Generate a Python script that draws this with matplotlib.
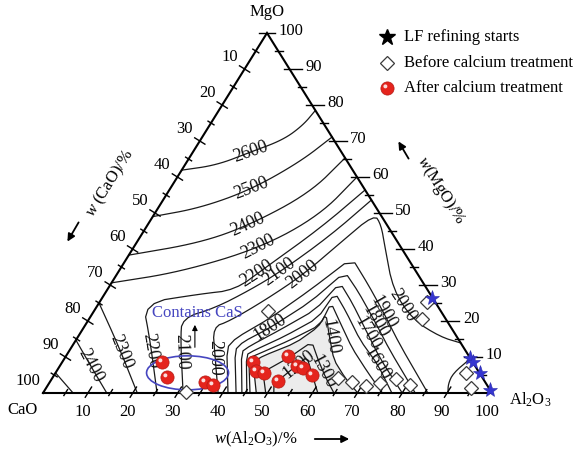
import numpy as np
import matplotlib
matplotlib.use("Agg")
import matplotlib.pyplot as plt
from matplotlib.path import Path
from matplotlib.patches import Ellipse, Polygon

plt.rcParams["font.family"] = ["Liberation Serif", "DejaVu Serif"]
plt.rcParams["mathtext.fontset"] = "custom"
plt.rcParams["mathtext.rm"] = "Liberation Serif"
plt.rcParams["mathtext.it"] = "Liberation Serif:italic"

# ---------------- data (mass %, Al2O3 and MgO; CaO = balance) ----------------
iso2600_al = [0, 7.1, 12.8, 18.4, 20.8, 21.5]
iso2600_mg = [61.9, 63.3, 66.9, 70.3, 74.4, 78.5]
iso2500_al = [0, 9.3, 18.0, 25.2, 28.9]
iso2500_mg = [49.0, 51.4, 56.4, 64.2, 71.1]
iso2400_al = [0, 14.1, 22.8, 31.7, 34.7]
iso2400_mg = [38.3, 41.7, 46.7, 55.6, 65.3]
iso2300_al = [0, 13.7, 28.3, 37.0, 40.0]
iso2300_mg = [30.6, 33.6, 40.3, 49.4, 60.0]
iso2200_al = [25.4, 16.5, 9.8, 21.3, 28.5, 32.1, 38.9, 43.6]
iso2200_mg = [0, 14.7, 25.0, 27.5, 28.6, 34.7, 45.8, 56.4]
iso2100_al = [31.2, 23.3, 20.6, 26.5, 31.8, 36.0, 42.1, 46.4]
iso2100_mg = [0, 14.7, 20.8, 23.6, 28.6, 33.6, 43.6, 53.6]
iso2000_al = [39.0, 33.0, 28.7, 31.6, 36.6, 41.5, 45.4, 49.0, 52.0, 55.9, 63.7, 72.3, 80.7, 86.1]
iso2000_mg = [0, 10.6, 18.3, 20.0, 25.8, 32.8, 41.7, 49.7, 46.7, 40.6, 28.6, 20.3, 15.6, 13.9]
iso2000b_al = [90.4, 88.6, 89.0, 90.2]
iso2000b_mg = [9.5, 5.5, 2.5, 0]
iso2300c_al = [0, 10.1, 21.0]
iso2300c_mg = [25.0, 13.3, 0]
iso2400c_al = [0, 6.6, 14.2]
iso2400c_mg = [14.7, 7.8, 0]
iso2500c_al = [0, 6.7]
iso2500c_mg = [5.6, 0]
iso1900_al = [41.2, 34.7, 35.4, 40.2, 45.2, 50.1, 57.5, 64.0, 72.9, 85.7]
iso1900_mg = [0, 12.5, 15.3, 20.8, 28.6, 37.5, 30.0, 23.1, 13.3, 0]
iso1800_al = [43.0, 36.8, 37.5, 41.5, 46.9, 50.5, 56.2, 63.6, 71.3, 82.9]
iso1800_mg = [0, 11.9, 14.2, 18.1, 25.3, 33.6, 28.1, 20.3, 11.9, 0]
iso1700_al = [44.3, 38.5, 39.6, 44.0, 49.1, 50.9, 56.4, 63.7, 70.2, 80.0]
iso1700_mg = [0, 11.4, 13.1, 17.5, 23.1, 30.6, 25.0, 16.9, 9.7, 0]
iso1600_al = [45.4, 40.0, 41.2, 46.0, 50.8, 51.2, 56.3, 63.3, 70.7, 77.7]
iso1600_mg = [0, 10.6, 11.9, 15.8, 20.8, 27.8, 22.5, 14.7, 7.8, 0]
iso1500_al = [46.1, 41.0, 42.5, 47.7, 52.3, 51.7, 56.3, 62.6, 69.4, 75.6]
iso1500_mg = [0, 9.7, 10.8, 14.7, 18.9, 25.0, 19.7, 12.5, 5.8, 0]
iso1400_al = [47.5, 42.5, 43.9, 49.3, 52.1, 52.1, 55.7, 60.2, 65.2, 70.1]
iso1400_mg = [0, 8.6, 10.3, 13.9, 18.3, 21.9, 16.1, 9.2, 4.2, 0]
iso1300_al = [49.6, 46.1, 50.0, 52.8, 56.7, 60.9, 64.8]
iso1300_mg = [0, 5.8, 10.0, 14.2, 9.2, 4.2, 0]
iso1200_al = [51.4, 50.2, 52.6, 53.8, 57.5, 61.2]
iso1200_mg = [0, 2.5, 7.5, 10.0, 5.0, 0]

# (id, Al2O3, MgO, smoothing passes)
iso_lines = [
    ("2600", iso2600_al, iso2600_mg, 3), ("2500", iso2500_al, iso2500_mg, 3),
    ("2400", iso2400_al, iso2400_mg, 3), ("2300", iso2300_al, iso2300_mg, 3),
    ("2200", iso2200_al, iso2200_mg, 2), ("2100", iso2100_al, iso2100_mg, 2),
    ("2000", iso2000_al, iso2000_mg, 2), ("2000b", iso2000b_al, iso2000b_mg, 2),
    ("2300c", iso2300c_al, iso2300c_mg, 2), ("2400c", iso2400c_al, iso2400c_mg, 2),
    ("2500c", iso2500c_al, iso2500c_mg, 0),
    ("1900", iso1900_al, iso1900_mg, 1), ("1800", iso1800_al, iso1800_mg, 1),
    ("1700", iso1700_al, iso1700_mg, 1), ("1600", iso1600_al, iso1600_mg, 1),
    ("1500", iso1500_al, iso1500_mg, 1), ("1400", iso1400_al, iso1400_mg, 1),
    ("1300", iso1300_al, iso1300_mg, 1), ("1200", iso1200_al, iso1200_mg, 1),
]

# isotherm labels: (text, line id, approx Al2O3, approx MgO, rotation)
iso_labels = [
    ("2600", "2600", 12.9, 66.9, 19), ("2500", "2500", 18.8, 56.1, 21),
    ("2400", "2400", 22.7, 46.1, 24), ("2300", "2300", 28.0, 40.3, 27),
    ("2200", "2200", 30.3, 33.9, 33), ("2100", "2100", 36.2, 33.3, 36),
    ("2000", "2000", 41.9, 32.5, 38),
    ("2400", "2400c", 7.2, 8.3, -62), ("2300", "2300c", 11.5, 11.4, -68),
    ("2200", "2200", 18.5, 11.9, -80), ("2100", "2100", 25.5, 11.4, -88),
    ("2000", "2000", 33.2, 9.7, -90),
    ("1800", "1800", 41.6, 18.1, 33), ("1400", "1400", 56.2, 15.6, -80),
    ("1200", "1200", 53.5, 7.5, 38), ("1300", "1300", 59.2, 5.8, -62),
    ("1900", "1900", 64.5, 22.5, -60), ("1800", "1800", 63.9, 19.7, -60),
    ("1700", "1700", 64.0, 16.4, -60), ("1600", "1600", 70.8, 8.6, -58),
    ("2000", "2000", 68.0, 24.4, -57),
]

lf_al = [73.5, 90.2, 91.5, 94.5, 99.2]
lf_mg = [26.5, 9.8, 8.5, 5.5, 0.8]
before_al = [38.8, 31.7, 72.9, 74.1, 91.4, 94.6, 63.6, 67.3, 71.0, 73.7, 76.7, 80.6]
before_mg = [22.8, 0.3, 25.3, 20.6, 5.6, 1.4, 4.2, 3.1, 1.9, 2.8, 3.9, 2.2]
after_al = [22.3, 25.4, 34.6, 36.8, 42.5, 44.4, 46.5, 50.6, 49.5, 52.8, 54.4, 57.5]
after_mg = [8.6, 4.4, 3.1, 2.2, 8.6, 6.1, 5.6, 3.3, 10.3, 7.5, 6.9, 5.0]

tick_values = list(range(10, 101, 10))
legend_labels = ["LF refining starts", "Before calcium treatment", "After calcium treatment"]
cas_center_al, cas_center_mg = 29.4, 5.6
cas_text_al, cas_text_mg = 23.2, 22.2

# ---------------- ternary projection ----------------
X0, Y0, W, AX, H = 43.0, 393.0, 449.0, 224.0, 360.0


def tern(a, m):
    a = np.asarray(a, float)
    m = np.asarray(m, float)
    return X0 + W * a / 100.0 + AX * m / 100.0, Y0 - H * m / 100.0


def chaikin(x, y, n, r=0.2):
    p = np.column_stack([x, y]).astype(float)
    for _ in range(n):
        q = [p[0]]
        for i in range(len(p) - 1):
            q.append((1 - r) * p[i] + r * p[i + 1])
            q.append(r * p[i] + (1 - r) * p[i + 1])
        q.append(p[-1])
        p = np.array(q)
    return p[:, 0], p[:, 1]


def snap(xs, ys, tx, ty):
    best = (1e18, tx, ty)
    for i in range(len(xs) - 1):
        dx, dy = xs[i + 1] - xs[i], ys[i + 1] - ys[i]
        L2 = dx * dx + dy * dy
        if L2 == 0:
            continue
        t = min(1, max(0, ((tx - xs[i]) * dx + (ty - ys[i]) * dy) / L2))
        px, py = xs[i] + t * dx, ys[i] + t * dy
        d = (px - tx) ** 2 + (py - ty) ** 2
        if d < best[0]:
            best = (d, px, py)
    return best[1], best[2]


fig = plt.figure(figsize=(5.84, 4.54), dpi=100)
ax = fig.add_axes([0, 0, 1, 1])
ax.set_xlim(0, 584)
ax.set_ylim(454, 0)
ax.axis("off")

# isotherms
drawn = {}
for key, al, mg, n in iso_lines:
    x, y = tern(al, mg)
    xs, ys = chaikin(x, y, n, 0.25 if n >= 2 else 0.18)
    drawn[key] = (xs, ys)
    ax.plot(xs, ys, color="#1a1a1a", lw=0.9, zorder=2, solid_joinstyle="round")

# light shading of the lowest-temperature pocket
xs, ys = drawn["1400"]
ax.add_patch(Polygon(np.column_stack([xs, ys]), closed=True, facecolor="#ececec",
                     edgecolor="none", zorder=1))

for txt, key, a, m, rot in iso_labels:
    tx, ty = tern(a, m)
    px, py = snap(*drawn[key], float(tx), float(ty))
    ax.text(px, py, txt, fontsize=13, rotation=rot, rotation_mode="anchor",
            ha="center", va="center", zorder=4, color="#111111")

# triangle frame
cx, cy = tern([0, 100, 0, 0], [0, 0, 100, 0])
ax.plot(cx, cy, color="black", lw=1.5, zorder=3, solid_joinstyle="miter")

# ticks
ld = np.array([AX, -H]) / np.hypot(AX, H)      # left-edge direction (up-right)
lp = np.array([ld[1] * -1, ld[0]])             # perpendicular
for v in range(5, 101, 5):
    major = v % 10 == 0
    # left edge (CaO)
    if v < 100:
        x, y = tern(0, 100 - v)
        L = 6 if major else 3.5
        ax.plot([x - L * lp[0], x + L * lp[0]], [y - L * lp[1], y + L * lp[1]],
                color="black", lw=1.0, zorder=3)
    # right edge (MgO)
    x, y = tern(100 - v, v)
    if v == 100:
        ax.plot([x - 8, x + 8], [y, y], color="black", lw=1.0, zorder=3)
    elif major:
        ax.plot([x - 6, x + 12], [y, y], color="black", lw=1.0, zorder=3)
    else:
        ax.plot([x - 3, x + 5], [y, y], color="black", lw=1.0, zorder=3)
    # bottom edge (Al2O3)
    if v < 100:
        x, y = tern(v, 0)
        lo, hi = (5, 7) if major else (3, 4)
        ax.plot([x - lo * ld[0], x + hi * ld[0]], [y - lo * ld[1], y + hi * ld[1]],
                color="black", lw=1.0, zorder=3)

for v in tick_values:
    x, y = tern(0, 100 - v)
    ax.text(x - 15, y - 12, str(v), fontsize=12, ha="center", va="center")
    x, y = tern(100 - v, v)
    ax.text(x + 24, y - 2, str(v), fontsize=12, ha="center", va="center")
    x, y = tern(v, 0)
    ax.text(x - 5, y + 19, str(v), fontsize=12, ha="center", va="center")

# corner labels
x, y = tern(0, 100)
ax.text(x, y - 21, "MgO", fontsize=12, ha="center", va="center")
x, y = tern(0, 0)
ax.text(x - 21, y + 17, "CaO", fontsize=12, ha="center", va="center")
x, y = tern(100, 0)
ax.text(x + 38, y + 7, r"Al$_2$O$_3$", fontsize=12, ha="center", va="center")

# axis titles with arrows
ax.text(110, 183, r"$w$ (CaO)/%", fontsize=12, rotation=58, rotation_mode="anchor",
        ha="center", va="center")
ax.annotate("", xy=(66, 244), xytext=(80, 220),
            arrowprops=dict(arrowstyle="-|>", color="black", lw=1.3, mutation_scale=11))
ax.text(441, 190, r"$w$(MgO)/%", fontsize=12, rotation=-58, rotation_mode="anchor",
        ha="center", va="center")
ax.annotate("", xy=(397, 139), xytext=(410, 161),
            arrowprops=dict(arrowstyle="-|>", color="black", lw=1.3, mutation_scale=11))
ax.text(256, 439, r"$w$(Al$_2$O$_3$)/%", fontsize=12, ha="center", va="center")
ax.annotate("", xy=(352, 439), xytext=(312, 439),
            arrowprops=dict(arrowstyle="-|>", color="black", lw=1.3, mutation_scale=11))

# CaS region
ex, ey = tern(cas_center_al, cas_center_mg)
ax.add_patch(Ellipse((ex, ey), 82, 34, facecolor="none", edgecolor="#4646c0", lw=1.2, zorder=4))
tx, ty = tern(cas_text_al, cas_text_mg)
ax.text(tx, ty, "Contains CaS", fontsize=12, color="#4646c0", ha="center", va="center", zorder=4)
ax.annotate("", xy=(tx - 2, ty + 9), xytext=(tx - 2, ty + 37),
            arrowprops=dict(arrowstyle="-|>", color="black", lw=0.8, mutation_scale=8), zorder=4)

# highlight marker for the red "balls"
_c = Path.circle((-0.32, 0.32), 0.3)
HL = Path(np.vstack([[1.0, 1.0], _c.vertices]),
          np.concatenate([[Path.MOVETO], _c.codes]).astype(np.uint8))

# data points
x, y = tern(lf_al, lf_mg)
ax.plot(x, y, ls="none", marker="*", ms=11, color="#3535d0", mec="#2a2aa8", mew=0.4,
        zorder=6, clip_on=False)
x, y = tern(before_al, before_mg)
ax.plot(x, y, ls="none", marker="D", ms=7.5, mfc="white", mec="#3a3a3a", mew=0.9,
        zorder=5, clip_on=False)
x, y = tern(after_al, after_mg)
ax.plot(x, y, ls="none", marker="o", ms=9.5, mfc="#e5241d", mec="#b21a14", mew=0.5, zorder=6)
ax.plot(x, y, ls="none", marker=HL, ms=9.5, mfc="white", mec="none", alpha=0.85, zorder=7)

# legend
ly = [37, 63, 88]
ax.plot(387, ly[0], marker="*", ms=12, color="black")
ax.plot(387, ly[1], marker="D", ms=7.5, mfc="white", mec="#3a3a3a", mew=0.9)
ax.plot(387, ly[2], marker="o", ms=9.5, mfc="#e5241d", mec="#b21a14", mew=0.5)
ax.plot(387, ly[2], marker=HL, ms=9.5, mfc="white", mec="none", alpha=0.85)
for yy, lab in zip(ly, legend_labels):
    ax.text(404, yy, lab, fontsize=12, ha="left", va="center")

fig.savefig("out.png", dpi=100)
